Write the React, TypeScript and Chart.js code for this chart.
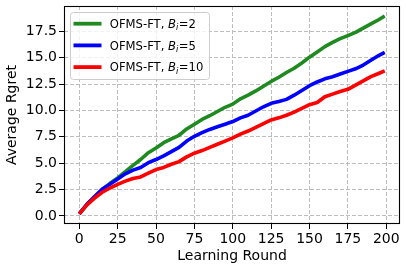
import React, { useEffect, useRef } from 'react';
import { Chart, registerables } from 'chart.js';

Chart.register(...registerables);

const rounds = [0, 5, 10, 15, 20, 25, 30, 35, 40, 45, 50, 55, 60, 65, 70, 75, 80, 85, 90, 95, 100, 105, 110, 115, 120, 125, 130, 135, 140, 145, 150, 155, 160, 165, 170, 175, 180, 185, 190, 195, 199];
const regretB2 = [0.2, 1.1, 1.8, 2.5, 3.1, 3.6, 4.2, 4.8, 5.35, 6.0, 6.45, 6.95, 7.3, 7.65, 8.25, 8.7, 9.15, 9.5, 9.9, 10.3, 10.6, 11.1, 11.45, 11.85, 12.3, 12.75, 13.15, 13.6, 14.0, 14.5, 15.05, 15.55, 16.05, 16.45, 16.8, 17.1, 17.4, 17.8, 18.2, 18.6, 18.95];
const regretB5 = [0.2, 1.1, 1.85, 2.55, 3.0, 3.5, 4.0, 4.35, 4.6, 5.05, 5.35, 5.7, 6.1, 6.5, 7.1, 7.55, 7.9, 8.2, 8.45, 8.7, 8.95, 9.3, 9.55, 9.95, 10.35, 10.68, 10.85, 11.05, 11.45, 11.9, 12.35, 12.7, 13.0, 13.2, 13.45, 13.7, 13.95, 14.3, 14.75, 15.2, 15.5];
const regretB10 = [0.2, 1.05, 1.7, 2.25, 2.65, 3.0, 3.3, 3.55, 3.7, 4.05, 4.4, 4.6, 4.9, 5.15, 5.6, 5.95, 6.2, 6.5, 6.8, 7.1, 7.4, 7.75, 8.05, 8.4, 8.75, 9.1, 9.3, 9.55, 9.85, 10.2, 10.55, 10.75, 11.3, 11.55, 11.8, 12.0, 12.4, 12.8, 13.2, 13.5, 13.75];

const methodName = 'OFMS-FT';
const budgets = ['2', '5', '10'];
const seriesColors = ['#1f8a1f', '#0000ff', '#ff0000'];
const seriesValues = [regretB2, regretB5, regretB10];

const xTitle = 'Learning Round';
const yTitle = 'Average Rgret';

const FONT = "'DejaVu Sans', sans-serif";

const framePlugin = {
  id: 'mplFrame',
  afterDatasetsDraw(chart: any) {
    const { ctx, chartArea } = chart;
    const l = Math.round(chartArea.left) + 0.5;
    const t = Math.round(chartArea.top) + 0.5;
    const r = Math.round(chartArea.right) - 0.5;
    const b = Math.round(chartArea.bottom) - 0.5;
    ctx.save();
    ctx.strokeStyle = '#000';
    ctx.lineWidth = 1.1;
    ctx.setLineDash([]);
    ctx.strokeRect(l, t, r - l, b - t);
    ctx.restore();
  },
};

const legendPlugin = {
  id: 'mplLegend',
  afterDraw(chart: any) {
    const { ctx, chartArea } = chart;
    const size = 11.6;
    const subSize = 8.2;
    const normal = `${size}px ${FONT}`;
    const italic = `italic ${size}px ${FONT}`;
    const sub = `italic ${subSize}px ${FONT}`;
    ctx.save();
    const pieces = chart.data.datasets.map((ds: any, i: number) => {
      const p1 = `${methodName}, `;
      const p2 = 'B';
      const p3 = 'i';
      const p4 = `=${budgets[i]}`;
      ctx.font = normal;
      const w1 = ctx.measureText(p1).width;
      const w4 = ctx.measureText(p4).width;
      ctx.font = italic;
      const w2 = ctx.measureText(p2).width;
      ctx.font = sub;
      const w3 = ctx.measureText(p3).width;
      return { p1, p2, p3, p4, w1, w2, w3, w4, color: ds.borderColor, total: w1 + w2 + w3 + w4 + 0.5 };
    });
    const maxW = Math.max(...pieces.map((p: any) => p.total));
    const bx = Math.round(chartArea.left) + 6.5;
    const by = Math.round(chartArea.top) + 6.5;
    const textOff = 39.3;
    const bw = Math.round(textOff + maxW + 6);
    const rowH = 21.7;
    const bh = 67;
    const rad = 3;
    ctx.beginPath();
    ctx.moveTo(bx + rad, by);
    ctx.lineTo(bx + bw - rad, by);
    ctx.arcTo(bx + bw, by, bx + bw, by + rad, rad);
    ctx.lineTo(bx + bw, by + bh - rad);
    ctx.arcTo(bx + bw, by + bh, bx + bw - rad, by + bh, rad);
    ctx.lineTo(bx + rad, by + bh);
    ctx.arcTo(bx, by + bh, bx, by + bh - rad, rad);
    ctx.lineTo(bx, by + rad);
    ctx.arcTo(bx, by, bx + rad, by, rad);
    ctx.closePath();
    ctx.fillStyle = 'rgba(255,255,255,0.8)';
    ctx.fill();
    ctx.strokeStyle = '#cccccc';
    ctx.lineWidth = 1;
    ctx.stroke();

    pieces.forEach((p: any, i: number) => {
      const cy = by + 11.2 + i * rowH;
      ctx.beginPath();
      ctx.strokeStyle = p.color;
      ctx.lineWidth = 3.8;
      ctx.lineCap = 'butt';
      ctx.moveTo(bx + 3, cy);
      ctx.lineTo(bx + 31, cy);
      ctx.stroke();
      const base = cy + 4.3;
      let x = bx + textOff;
      ctx.fillStyle = '#000';
      ctx.textBaseline = 'alphabetic';
      ctx.textAlign = 'left';
      ctx.font = normal;
      ctx.fillText(p.p1, x, base);
      x += p.w1;
      ctx.font = italic;
      ctx.fillText(p.p2, x, base);
      x += p.w2;
      ctx.font = sub;
      ctx.fillText(p.p3, x, base + 2.4);
      x += p.w3 + 0.5;
      ctx.font = normal;
      ctx.fillText(p.p4, x, base);
    });
    ctx.restore();
  },
};

export default function App() {
  const canvasRef = useRef<HTMLCanvasElement | null>(null);

  useEffect(() => {
    const canvas = canvasRef.current;
    if (!canvas) return;
    const datasets = seriesValues.map((vals, i) => ({
      label: `${methodName}, Bᵢ=${budgets[i]}`,
      data: rounds.map((r, j) => ({ x: r, y: vals[j] })),
      borderColor: seriesColors[i],
      backgroundColor: seriesColors[i],
      borderWidth: 3.6,
      pointRadius: 0,
      tension: 0,
      borderJoinStyle: 'round' as const,
      borderCapStyle: 'butt' as const,
      fill: false,
      order: 3 - i,
    }));

    const tickFont = { family: FONT, size: 14 };
    const gridOpts = {
      color: '#bdbdbd',
      lineWidth: 1,
      tickLength: 5,
      tickColor: '#000',
      tickWidth: 1,
      tickBorderDash: [],
    };
    const chart = new Chart(canvas, {
      type: 'line',
      data: { datasets },
      plugins: [framePlugin, legendPlugin],
      options: {
        animation: false,
        responsive: false,
        maintainAspectRatio: false,
        events: [],
        layout: { padding: { top: 6, right: 6, left: 0, bottom: 0 } },
        plugins: { legend: { display: false }, tooltip: { enabled: false } },
        scales: {
          x: {
            type: 'linear',
            min: -9.95,
            max: 208.95,
            ticks: {
              stepSize: 25,
              includeBounds: false,
              color: '#000',
              font: tickFont,
              padding: 2,
              maxRotation: 0,
              autoSkip: false,
            },
            grid: gridOpts,
            border: { display: false, dash: [4, 2] },
            title: {
              display: true,
              text: xTitle,
              color: '#000',
              font: { family: FONT, size: 14 },
              padding: { top: 0, bottom: 5.5 },
            },
            afterFit: (s: any) => {
              s.height = 46;
              s.paddingLeft = 0;
              s.paddingRight = 0;
            },
          },
          y: {
            type: 'linear',
            min: -0.76,
            max: 19.9,
            ticks: {
              stepSize: 2.5,
              includeBounds: false,
              color: '#000',
              font: tickFont,
              padding: 2,
              callback: (v: any) => Number(v).toFixed(1),
            },
            grid: gridOpts,
            border: { display: false, dash: [4, 2] },
            title: {
              display: true,
              text: yTitle,
              color: '#000',
              font: { family: FONT, size: 14 },
              padding: { top: 4, bottom: 0 },
            },
            afterFit: (s: any) => {
              s.width = 64;
              s.paddingTop = 0;
              s.paddingBottom = 0;
            },
          },
        },
      } as any,
    });
    return () => chart.destroy();
  }, []);

  return (
    <div style={{ position: 'fixed', left: 0, top: 0, width: 406, height: 270, background: '#fff' }}>
      <canvas ref={canvasRef} width={406} height={270} style={{ display: 'block', width: 406, height: 270 }} />
    </div>
  );
}
